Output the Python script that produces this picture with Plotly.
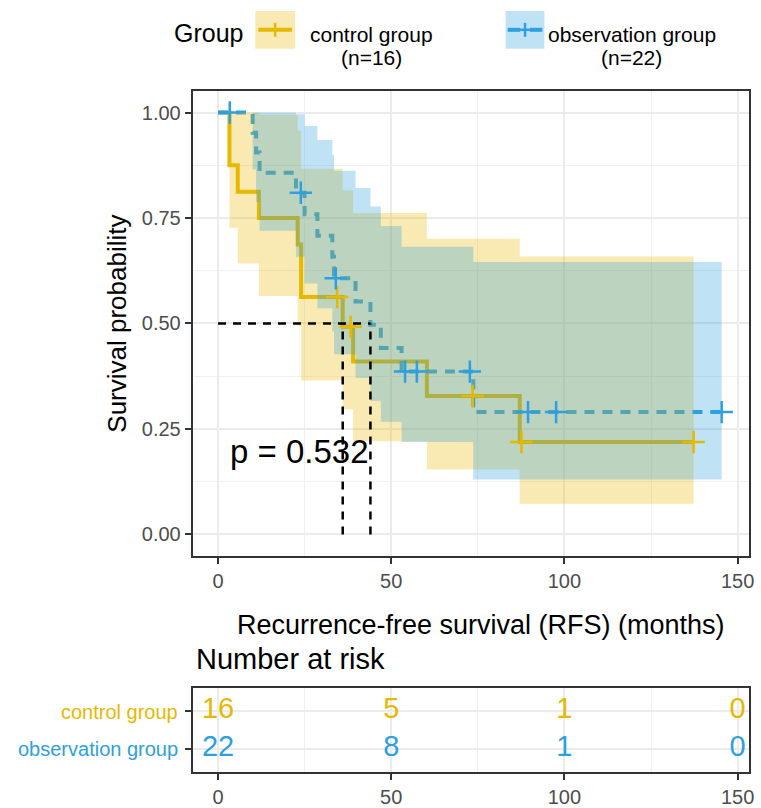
import plotly.graph_objects as go

# ---------------- data ----------------
groups = ["control group", "observation group"]
group_n = [16, 22]
gold = "#E7B800"
blue = "#2E9FDF"

# control group KM step curve (time, survival), with 95% CI
ctrl_time = [0, 3.3, 5.7, 11.8, 23.0, 24.0, 36.0, 39.0, 60.3, 87.1]
ctrl_surv = [1.0, 0.875, 0.8125, 0.75, 0.6875, 0.5625, 0.492, 0.410, 0.328, 0.219]
ctrl_upper = [1.0, 1.0, 1.0, 0.995, 0.957, 0.867, 0.816, 0.762, 0.701, 0.659]
ctrl_lower = [1.0, 0.727, 0.642, 0.565, 0.494, 0.365, 0.297, 0.221, 0.154, 0.073]
ctrl_end = 137.3
ctrl_cens_time = [34.4, 38.3, 73.5, 87.6, 137.3]
ctrl_cens_surv = [0.5625, 0.492, 0.328, 0.219, 0.219]

# observation group KM step curve
obs_time = [0, 10.0, 11.0, 12.0, 22.5, 25.0, 28.7, 33.0, 33.5, 39.7, 44.0, 47.0, 53.0, 73.7]
obs_surv = [1.0, 0.952, 0.905, 0.857, 0.810, 0.759, 0.708, 0.658, 0.607, 0.552, 0.497, 0.442, 0.386, 0.290]
obs_upper = [1.0, 1.0, 1.0, 1.0, 0.996, 0.968, 0.935, 0.900, 0.862, 0.821, 0.777, 0.731, 0.682, 0.646]
obs_lower = [1.0, 0.865, 0.788, 0.720, 0.658, 0.595, 0.536, 0.481, 0.427, 0.371, 0.317, 0.267, 0.219, 0.130]
obs_end = 145.4
obs_cens_time = [3.4, 23.9, 34.0, 54.0, 57.4, 72.7, 89.5, 97.6, 145.4]
obs_cens_surv = [1.0, 0.810, 0.607, 0.386, 0.386, 0.386, 0.290, 0.290, 0.290]

medians = [36.0, 44.0]
p_text = "p = 0.532"

risk_times = [0, 50, 100, 150]
ctrl_risk = [16, 5, 1, 0]
obs_risk = [22, 8, 1, 0]

x_ticks = [0, 50, 100, 150]
y_ticks = [0, 0.25, 0.5, 0.75, 1.0]

# ---------------- helpers ----------------
W, H = 761, 808
FONT = "Liberation Sans, Arial, sans-serif"
TICKC = "#4D4D4D"


def px(x):
    return x / W


def py(y):
    return 1 - y / H


def step_path(times, vals, end):
    xs, ys = [], []
    for i, (t, v) in enumerate(zip(times, vals)):
        t_next = times[i + 1] if i + 1 < len(times) else end
        xs += [t, t_next]
        ys += [v, v]
    return xs, ys


def ribbon(times, up, lo, end):
    ux, uy = step_path(times, up, end)
    lx, ly = step_path(times, lo, end)
    return ux + lx[::-1], uy + ly[::-1]


fig = go.Figure()

# curves (drawn under the ribbons, as in the source)
for t, s, e, col, dash in [(ctrl_time, ctrl_surv, ctrl_end, gold, "solid"),
                           (obs_time, obs_surv, obs_end, blue, "10px,8px")]:
    xs, ys = step_path(t, s, e)
    fig.add_trace(go.Scatter(x=xs, y=ys, mode="lines",
                             line=dict(color=col, width=4, dash=dash),
                             showlegend=False, hoverinfo="skip"))

# confidence ribbons
for t, up, lo, e, rgba in [(ctrl_time, ctrl_upper, ctrl_lower, ctrl_end, "rgba(231,184,0,0.3)"),
                           (obs_time, obs_upper, obs_lower, obs_end, "rgba(46,159,223,0.3)")]:
    rx, ry = ribbon(t, up, lo, e)
    fig.add_trace(go.Scatter(x=rx, y=ry, mode="lines", fill="toself",
                             fillcolor=rgba, line=dict(width=0),
                             showlegend=False, hoverinfo="skip"))

# censor marks
for ct, cs, col in [(ctrl_cens_time, ctrl_cens_surv, gold),
                    (obs_cens_time, obs_cens_surv, blue)]:
    fig.add_trace(go.Scatter(x=ct, y=cs, mode="markers",
                             marker=dict(symbol="cross-thin", size=16,
                                         line=dict(width=2.5, color=col)),
                             showlegend=False, hoverinfo="skip", cliponaxis=False))

# risk table numbers
for vals, row, col in [(ctrl_risk, 2, gold), (obs_risk, 1, blue)]:
    fig.add_trace(go.Scatter(x=risk_times, y=[row] * len(vals), mode="text",
                             text=[str(v) for v in vals],
                             textposition="middle center",
                             textfont=dict(size=29, color=col, family=FONT),
                             xaxis="x2", yaxis="y2",
                             showlegend=False, hoverinfo="skip", cliponaxis=False))

x_range = [-7.3, 153.3]
axis_common = dict(showline=True, mirror=True, linecolor="#333333", linewidth=2,
                   ticks="outside", ticklen=6, tickwidth=2, tickcolor="#333333",
                   gridcolor="#EBEBEB", gridwidth=1.8, zeroline=False,
                   tickfont=dict(size=20, color=TICKC, family=FONT))

fig.update_layout(
    width=W, height=H,
    margin=dict(l=0, r=0, t=0, b=0),
    paper_bgcolor="white", plot_bgcolor="white",
    font=dict(family=FONT, color="black"),
    xaxis=dict(domain=[px(194), px(754)], range=x_range, anchor="y",
               tickvals=x_ticks,
               minor=dict(tickvals=[25, 75, 125], showgrid=True,
                          gridcolor="#F0F0F0", gridwidth=1, ticks=""),
               **axis_common),
    yaxis=dict(domain=[py(559), py(92)], range=[-0.05, 1.05], anchor="x",
               tickvals=y_ticks, ticktext=[f"{v:.2f}" for v in y_ticks],
               minor=dict(tickvals=[0.125, 0.375, 0.625, 0.875], showgrid=True,
                          gridcolor="#F0F0F0", gridwidth=1, ticks=""),
               **axis_common),
    xaxis2=dict(domain=[px(194), px(754)], range=x_range, anchor="y2",
                tickvals=x_ticks,
                minor=dict(tickvals=[25, 75, 125], showgrid=True,
                           gridcolor="#F0F0F0", gridwidth=1, ticks=""),
                **axis_common),
    yaxis2=dict(domain=[py(777), py(692)], range=[0.4, 2.6], anchor="x2",
                tickvals=[1, 2], showticklabels=False,
                **axis_common),
)

shapes = []
# median lines
shapes.append(dict(type="line", xref="x", yref="y", x0=0, x1=max(medians), y0=0.5, y1=0.5,
                   line=dict(color="black", width=2.5, dash="8px,7px")))
for m in medians:
    shapes.append(dict(type="line", xref="x", yref="y", x0=m, x1=m, y0=0, y1=0.5,
                       line=dict(color="black", width=2.5, dash="8px,7px")))

# manual legend keys
key_boxes = [(257, 297, "rgba(231,184,0,0.3)", gold, False),
             (509, 548, "rgba(46,159,223,0.3)", blue, True)]
for x0, x1, fillc, col, dashed in key_boxes:
    shapes.append(dict(type="rect", xref="paper", yref="paper",
                       x0=px(x0), x1=px(x1), y0=py(49), y1=py(11),
                       fillcolor=fillc, line=dict(width=0), layer="below"))
    cx = (x0 + x1) / 2
    if dashed:
        segs = [(x0 + 2, cx - 5), (cx + 5, x1 - 2)]
    else:
        segs = [(x0 + 3, x1 - 3)]
    for a, b in segs:
        shapes.append(dict(type="line", xref="paper", yref="paper",
                           x0=px(a), x1=px(b), y0=py(30), y1=py(30),
                           line=dict(color=col, width=4)))
    shapes.append(dict(type="line", xref="paper", yref="paper",
                       x0=px(cx - 7), x1=px(cx + 7), y0=py(30), y1=py(30),
                       line=dict(color=col, width=2.5)))
    shapes.append(dict(type="line", xref="paper", yref="paper",
                       x0=px(cx), x1=px(cx), y0=py(23), y1=py(37),
                       line=dict(color=col, width=2.5)))

ann = []


def add_text(text, x, y, size, color="black", xanchor="center", angle=0, xref="paper", yref="paper"):
    ann.append(dict(text=text, x=x, y=y, xref=xref, yref=yref, showarrow=False,
                    xanchor=xanchor, yanchor="middle", textangle=angle,
                    font=dict(size=size, color=color, family=FONT)))


add_text("Group", px(172.7), py(33), 25, xanchor="left")
for name, n, cx in zip(groups, group_n, [373.5, 636]):
    add_text(name, px(cx), py(34.4), 21)
    add_text(f"(n={n})", px(cx), py(57.7), 21)

add_text("Survival probability", px(118), py(325.5), 26, angle=-90)
add_text("Recurrence-free survival (RFS) (months)", px(484), py(629), 27)
add_text("Number at risk", px(195), py(663), 29, xanchor="left")
add_text(groups[0], px(181), py(716), 20, color=gold, xanchor="right")
add_text(groups[1], px(181), py(754), 20, color=blue, xanchor="right")
add_text(p_text, 3.0, 0.196, 33, xanchor="left", xref="x", yref="y")

fig.update_layout(shapes=shapes, annotations=ann)

fig.write_html("out.html",
               config={"displayModeBar": False},
               post_script="document.body.style.margin='0';document.body.style.overflow='hidden';")
